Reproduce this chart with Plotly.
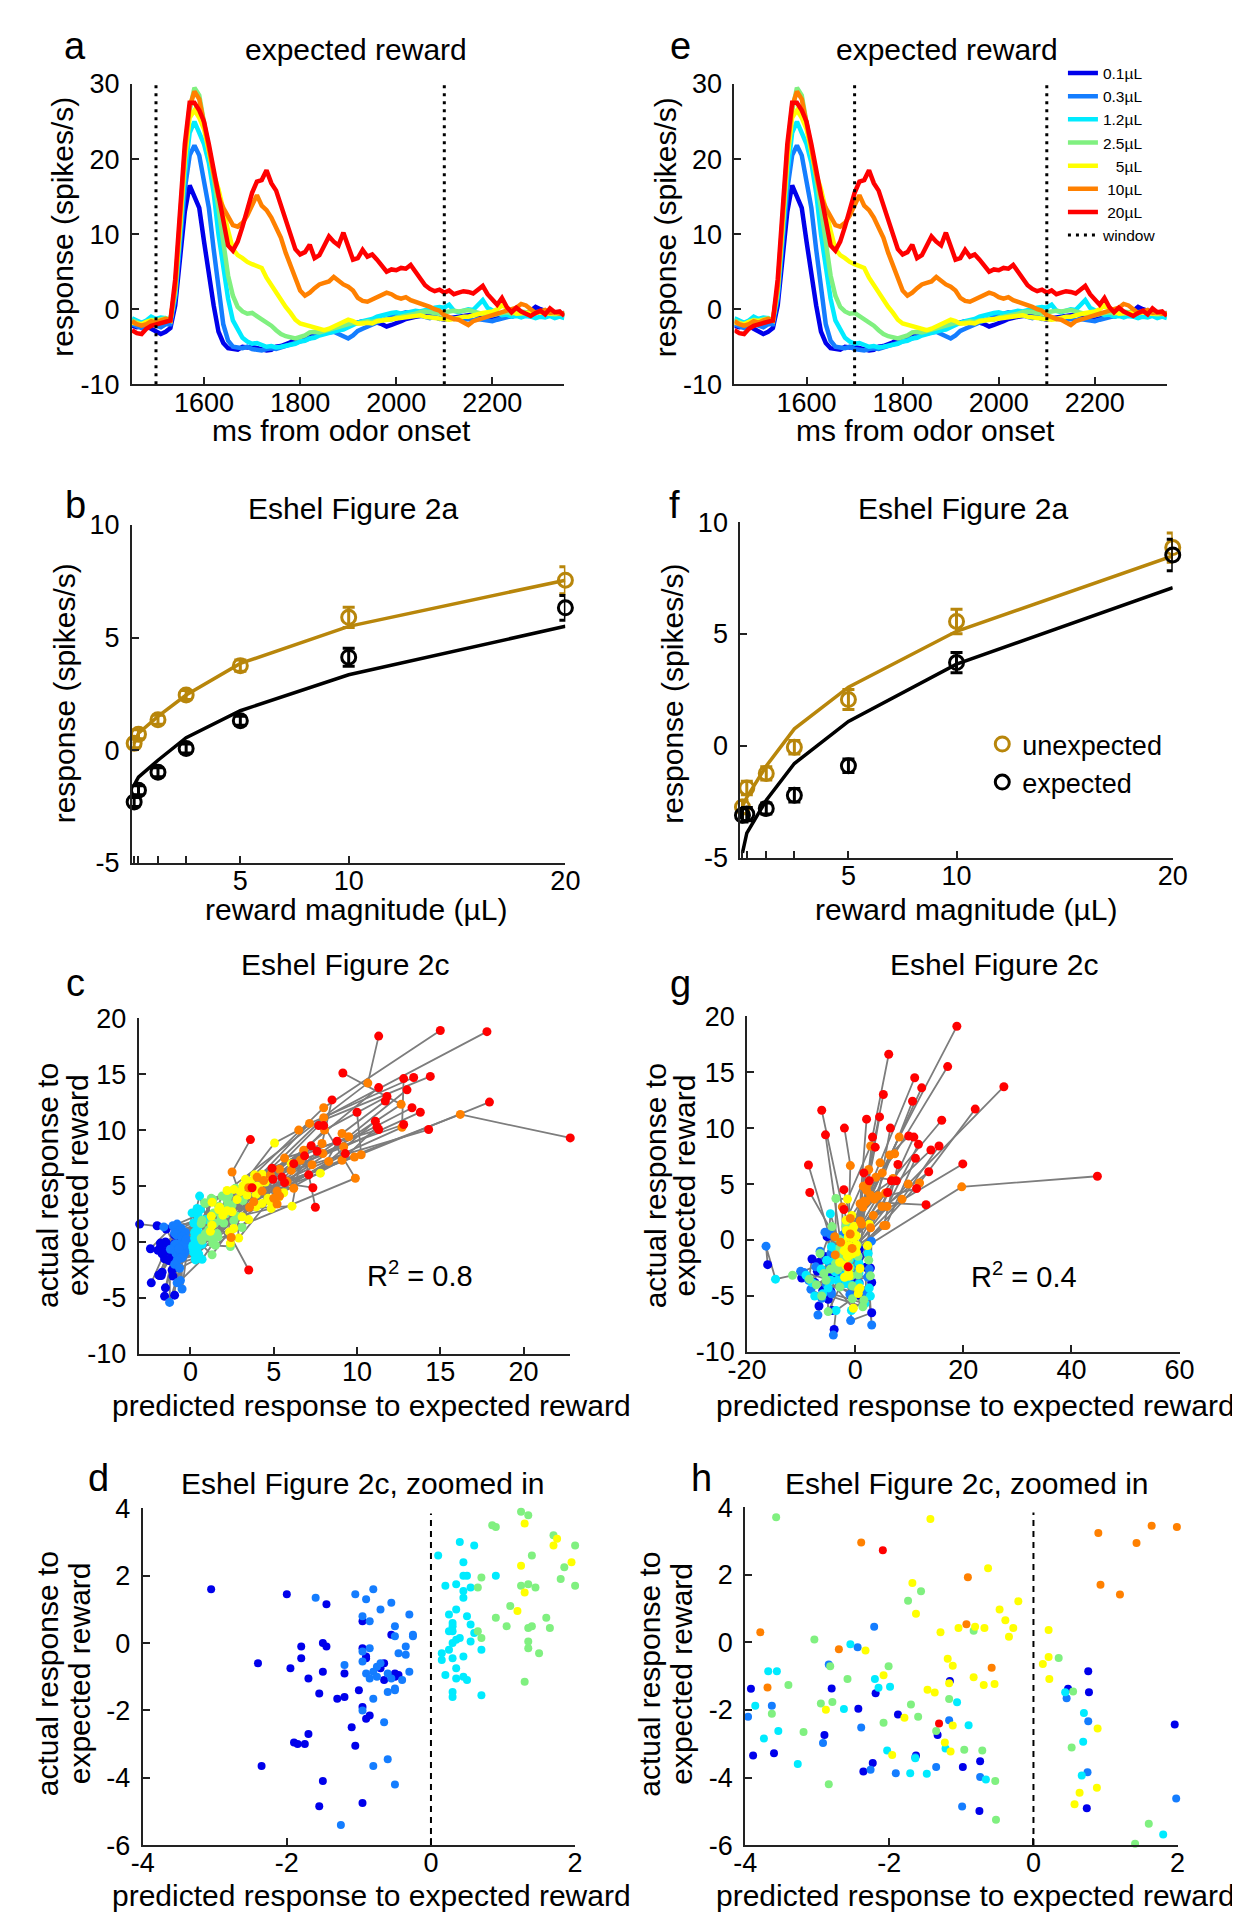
import plotly.graph_objects as go

# ====================== DATA ======================
# ---- panels a / e : PSTH (ms from odor onset) ----
t_ms = [1450,1460,1470,1480,1490,1500,1510,1520,1530,1540,1550,1560,1570,1580,1590,1600,1610,1620,1630,1640,
        1650,1660,1670,1680,1690,1700,1710,1720,1730,1740,1750,1760,1770,1780,1790,1800,1810,1820,1830,1840,
        1850,1860,1870,1880,1890,1900,1910,1920,1930,1940,1950,1960,1970,1980,1990,2000,2010,2020,2030,2040,
        2050,2060,2070,2080,2090,2100,2110,2120,2130,2140,2150,2160,2170,2180,2190,2200,2210,2220,2230,2240,
        2250,2260,2270,2280,2290,2300,2310,2320,2330,2340,2350]

resp_0p1 = [-2.2,-2.4,-2.3,-2.2,-2.6,-3.0,-3.3,-3.0,
            -2.5,0.5,7,13,16.5,15,13.5,9,4.5,0.5,-3,-4.5,-5.2,
            -5.3,-5.4,-5.0,-5.1,-5.0,-5.2,-5.3,-5.5,-5.4,-5.0,
            -4.9,-4.7,-4.4,-4.0,-3.8,-3.6,-3.5,-3.4,-3.2,-3.0,
            -2.7,-2.5,-2.4,-2.2,-2.1,-1.9,-1.8,-1.6,-1.7,-1.7,
            -1.8,-2.0,-2.3,-2.1,-1.9,-1.6,-1.3,-1.1,-1.0,-0.9,
            -0.8,-0.9,-1.1,-1.3,-1.4,-1.2,-1.1,-1.0,-0.9,-0.8,
            -0.7,-0.9,-1.0,-1.1,-1.0,-0.9,-0.8,-0.9,-1.0,-0.8,
            -0.7,-0.6,-0.2,0.3,0.0,-0.3,-0.5,-0.4,-0.6,-0.5]
resp_0p3 = [-2.0,-2.3,-2.5,-2.2,-2.0,-2.2,-2.4,-2.0,
            -2.0,1.5,9,16,20.5,21.8,20.5,17,13.5,8,3,-2,-4.2,
            -5.0,-5.1,-5.2,-5.0,-5.3,-5.4,-5.5,-5.3,-5.2,-5.3,
            -5.1,-4.9,-4.8,-4.6,-4.4,-4.2,-3.9,-3.6,-3.3,-3.2,
            -3.1,-3.0,-3.3,-3.6,-3.9,-3.5,-2.9,-2.6,-2.3,-2.0,
            -1.7,-1.5,-1.3,-1.0,-0.8,-0.6,-0.4,-0.5,-0.7,-0.9,
            -1.0,-1.2,-1.0,-1.3,-1.2,-1.1,-1.3,-1.2,-1.4,-1.3,
            -1.5,-1.3,-1.4,-1.5,-1.6,-1.4,-1.2,-1.0,-0.9,-0.8,
            -1.0,-0.6,-0.4,-0.6,-0.3,-0.5,-0.6,-0.8,-0.7,-0.9]
resp_1p2 = [-1.2,-1.5,-1.8,-1.5,-1.0,-1.3,-1.1,-1.2,
            -1.5,2,10,18,23.5,25,23.5,22,19.5,15.5,10,5.5,1.4,
            -1.5,-2.8,-3.8,-4.3,-4.6,-4.5,-4.8,-5.0,-4.9,-5.1,
            -5.0,-4.9,-4.7,-4.6,-4.3,-4.2,-3.9,-3.8,-3.5,-3.3,
            -3.1,-2.9,-2.8,-2.7,-2.4,-2.0,-1.8,-1.6,-1.5,-1.3,
            -1.0,-0.8,-0.6,-0.5,-0.4,-0.6,-0.5,-0.3,-0.2,-0.3,
            -0.1,0.0,0.2,0.3,0.2,0.6,-0.2,-0.4,-0.2,0.0,
            -0.1,0.6,1.2,0.2,-0.2,-0.5,-0.8,-0.7,-1.0,-0.9,
            -1.1,-0.9,-1.0,-1.2,-1.0,-1.1,-0.9,-1.2,-1.0,-1.2]
resp_2p5 = [-1.5,-1.8,-2.0,-1.7,-1.4,-1.5,-1.3,-1.2,
            -1.5,2.5,11,20,26.5,29.5,28.5,25,21.6,17.5,13.5,8.5,4.5,
            1.8,0.3,-0.3,-0.6,-0.5,-0.9,-1.3,-1.7,-2.2,-2.8,
            -3.3,-3.6,-3.8,-3.9,-3.7,-3.5,-3.1,-3.0,-3.1,-2.9,
            -2.8,-2.5,-2.3,-2.1,-2.0,-1.8,-1.9,-1.7,-1.6,-1.7,
            -1.5,-1.5,-1.3,-1.4,-1.1,-1.0,-0.9,-0.8,-0.6,-0.4,
            -0.3,-0.4,-0.5,-0.6,-0.4,-0.3,-0.2,-0.3,-0.2,-0.1,
            -0.3,-0.5,-0.7,-0.8,-0.8,-0.6,-0.5,-0.4,-0.6,-0.4,
            -0.3,-0.4,-0.5,-0.4,-0.3,-0.5,-0.6,-0.7,-0.6,-0.8]
resp_5 = [-1.8,-1.9,-2.0,-1.7,-1.5,-1.6,-1.4,-1.3,
          -1.5,3,11,20,25.5,26.5,25.5,24,21,18,16,13,10.5,
          8,7.2,6.8,6.3,6.0,5.8,5.5,4.2,3.2,2.2,
          1.1,0.3,-0.5,-1.4,-1.9,-2.1,-2.2,-2.4,-2.6,-2.8,
          -2.6,-2.3,-2.0,-1.7,-1.4,-1.6,-1.9,-1.9,-1.8,-1.9,
          -1.6,-1.5,-1.4,-1.3,-1.2,-1.2,-1.1,-0.9,-0.8,-0.8,
          -1.0,-1.1,-1.2,-1.2,-1.3,-1.4,-1.3,-1.1,-1.0,-1.0,
          -0.8,-0.6,-0.5,-0.4,-0.3,0.0,0.5,0.2,-0.3,-0.6,
          -0.6,-0.5,-0.4,-0.5,-0.4,-0.5,-0.6,-0.5,-0.6,-0.6]
resp_10 = [-1.6,-2.0,-2.2,-2.0,-1.6,-1.8,-1.5,-1.3,
           -1.5,3,12,21,27,29,28,25,21.5,18,15,13.5,12.4,
           11.2,11.0,11.5,12.5,14.0,15.2,13.8,13.2,12.2,11.0,
           9.5,7.5,5.8,4.0,2.5,1.8,2.2,2.8,3.3,3.5,
           3.7,4.3,3.8,3.3,3.0,2.5,1.5,1.1,1.0,1.3,
           1.6,1.8,2.2,2.0,1.6,1.4,1.6,1.2,1.0,0.8,
           0.5,0.3,0.0,-0.2,-0.8,-1.1,-1.3,-1.4,-1.8,-2.1,
           -1.6,-1.4,-1.2,-1.0,-0.9,-0.7,-0.5,-0.3,0.0,0.2,
           0.7,0.5,0.0,-0.5,-0.3,-0.1,-0.5,-0.4,-0.6,-0.6]
resp_20 = [-2.8,-3.2,-3.3,-2.6,-2.2,-2.0,-1.8,-1.6,
           -1.5,4,13,22,27.5,27.5,26.5,25,22,18.5,15.5,12,8.5,
           7.8,9.0,11.0,13.5,15.5,17.0,17.2,18.5,16.8,15.8,
           13.8,12.0,10.0,8.0,7.3,7.6,8.6,6.8,7.2,8.6,
           9.7,9.0,8.5,10.2,8.3,6.6,6.8,7.9,7.0,7.3,
           6.6,5.8,5.0,5.3,5.2,5.5,5.4,5.9,5.0,4.3,
           3.2,2.7,2.4,2.6,2.2,2.5,2.0,2.2,2.4,2.3,
           2.1,2.6,3.1,2.0,1.3,0.6,1.5,0.3,-0.4,0.2,
           -0.3,-0.6,-0.9,-0.5,-0.2,-0.7,0.1,-0.4,-0.3,-0.9]

reward_labels = ['0.1µL', '0.3µL', '1.2µL', '2.5µL', '\u00a0\u00a0\u00a05µL', '\u00a010µL', '\u00a020µL']
window_a = [1500, 2100]
window_e = [1700, 2100]
psth_xticks = [1600, 1800, 2000, 2200]
psth_xlabels = ['1600', '1800', '2000', '2200']
psth_yticks = [-10, 0, 10, 20, 30]
psth_ylabels = ['-10', '0', '10', '20', '30']

# ---- panels b / f : response vs reward magnitude ----
rewards = [0.1, 0.3, 1.2, 2.5, 5, 10, 20]
reward_ticktext = ['', '', '', '', '5', '10', '20']
mag_yticks = [-5, 0, 5, 10]
mag_ylabels = ['-5', '0', '5', '10']
b_unexp = [0.3, 0.7, 1.35, 2.45, 3.75, 5.9, 7.55]
b_unexp_err = [0.2, 0.2, 0.2, 0.2, 0.25, 0.45, 0.6]
b_exp = [-2.3, -1.78, -0.98, 0.07, 1.31, 4.13, 6.32]
b_exp_err = [0.2, 0.2, 0.2, 0.2, 0.2, 0.4, 0.55]
b_fit_unexp = [0.3, 0.75, 1.5, 2.45, 3.85, 5.5, 7.55]
b_fit_exp = [-1.55, -1.2, -0.45, 0.55, 1.75, 3.35, 5.5]

f_unexp = [-2.73, -1.88, -1.23, -0.06, 2.07, 5.56, 8.86]
f_unexp_err = [0.3, 0.3, 0.3, 0.3, 0.45, 0.55, 0.65]
f_exp = [-3.1, -3.05, -2.8, -2.21, -0.89, 3.72, 8.53]
f_exp_err = [0.3, 0.3, 0.25, 0.3, 0.3, 0.45, 0.7]
f_fit_unexp = [-2.7, -2.3, -0.9, 0.76, 2.62, 5.12, 8.49]
f_fit_exp = [-4.78, -3.9, -2.43, -0.79, 1.09, 3.65, 7.07]

# ---- panels c / d : predicted vs actual (40 neurons, one list per reward size) ----
c_pred_0p1 = [-3.05,-2.4,-2.35,-2.0,-1.95,-1.9,-1.85,-1.75,-1.7,-1.7,-1.8,-1.8,-1.55,-1.5,-1.5,-1.45,-1.45,-1.5,-1.55,-1.3,
              -1.2,-1.1,-1.05,-1.0,-0.95,-0.9,-0.85,-0.95,-0.95,-0.9,-0.95,-0.65,-0.65,-0.5,-0.5,-0.55,-1.2,-0.7,-0.45,-0.9]
c_act_0p1 = [1.6,-0.6,-3.65,1.45,-0.75,-2.95,-3.0,-3.0,-2.7,-1.05,-0.1,-0.45,-1.5,-0.85,0.0,-0.1,1.15,-4.1,-4.85,-1.65,
             -1.6,-2.5,-3.05,-1.4,-1.9,-2.25,-2.15,0.65,-0.15,-0.4,-4.75,-0.6,-1.1,-0.9,-1.0,0.25,-0.9,-0.75,-0.95,-0.45]
c_pred_0p3 = [-1.6,-1.05,-0.8,-0.9,-0.55,-0.7,-0.95,-0.85,-0.3,-0.5,-0.5,-0.25,-0.35,-0.35,-0.3,-0.4,-0.95,-0.95,-0.85,-0.75,
              -0.8,-0.9,-0.85,-0.75,-1.2,-0.6,-0.55,-0.5,-0.5,-0.6,-0.8,-0.95,-0.65,-0.6,-0.8,-0.5,-1.25,-0.45,-0.25,-0.7]
c_act_0p3 = [1.35,1.45,1.6,1.3,1.2,1.0,0.8,0.65,0.85,0.5,0.2,0.2,-0.1,-0.35,-0.85,-1.1,-0.25,-0.55,-0.15,-0.7,
             -0.85,-0.9,-1.05,-1.0,-0.65,-0.9,-1.05,-1.35,-1.4,-1.45,-1.65,-2.0,-2.35,-3.45,-3.65,-4.2,-5.4,-0.3,0.25,-0.6]
c_pred_1p2 = [0.2,0.35,0.45,0.45,0.5,0.55,0.45,0.45,0.9,0.25,0.3,0.3,0.5,0.55,0.25,0.3,0.35,0.3,0.4,0.55,
              0.6,0.15,0.15,0.3,0.45,0.7,0.2,0.35,0.35,0.45,0.5,0.3,0.3,0.7,0.55,0.1,0.4,0.25,0.6,0.35]
c_act_1p2 = [1.7,1.75,2.4,2.0,2.0,1.65,1.55,1.35,2.0,0.85,0.6,0.5,0.8,0.55,0.35,0.35,0.1,0.0,0.15,0.05,
             0.3,-0.3,-0.5,-0.45,-0.4,-0.2,-0.95,-0.75,-1.05,-1.0,-1.1,-1.45,-1.6,-1.55,4.1,2.6,3.0,-0.2,2.9,1.0]
c_pred_2p5 = [0.65,0.7,0.9,0.9,1.05,1.35,1.25,1.35,1.45,1.4,1.35,1.4,1.35,1.35,1.3,1.6,1.65,1.7,1.8,2.0,
              2.0,0.65,0.7,2.2,2.3,2.5,2.8,3.1,2.1,2.6,1.25,1.9,2.25,3.15,1.5,0.85,1.1,2.4,2.7,1.85]
c_act_2p5 = [1.65,1.95,3.45,0.75,0.5,3.8,1.7,1.75,1.65,2.6,0.45,0.5,0.05,-0.15,-1.15,0.75,0.45,3.2,1.9,2.9,
             1.7,0.35,0.15,3.8,4.2,3.3,2.3,1.3,2.5,1.9,3.9,4.1,3.4,3.7,-0.3,3.5,1.1,-0.4,4.8,2.25]
c_pred_5 = [1.3,1.25,1.3,1.2,1.75,1.7,1.95,5.05,6.05,7.8,3.85,4.3,4.5,3.15,3.95,3.4,4.65,4.3,4.85,6.1,
            3.95,3.1,2.6,2.6,2.35,4.8,2.9,2.2,3.6,2.2,4.1,5.3,3.0,2.8,3.5,2.4,5.6,3.3,2.5,4.0]
c_act_5 = [3.55,2.3,1.5,0.95,3.1,2.9,2.4,8.85,7.0,6.15,6.0,6.05,5.35,5.0,4.25,4.2,3.9,3.45,3.0,3.2,
           3.15,2.25,4.7,1.2,0.9,3.6,0.35,2.8,5.4,4.6,4.9,4.0,4.5,3.8,2.0,-0.1,4.4,5.6,2.7,5.0]
c_pred_10 = [10.65,8.0,8.0,12.65,16.2,12.7,7.15,6.5,8.05,9.1,9.5,7.9,7.95,9.2,9.85,10.25,8.3,9.1,5.65,6.6,
             6.05,5.35,4.8,9.9,3.5,4.3,5.2,5.0,5.2,3.55,5.35,5.8,4.4,6.8,2.5,2.45,4.0,7.3,3.8,6.2]
c_act_10 = [14.2,12.0,11.1,12.3,11.4,10.25,10.6,10.0,10.0,9.7,9.4,8.8,7.9,8.5,7.6,7.8,7.2,7.3,7.5,7.3,
            6.4,6.5,6.0,5.7,4.85,4.55,4.55,3.9,3.4,3.1,4.1,5.4,5.5,8.2,6.25,0.4,5.8,6.9,3.6,4.8]
c_pred_20 = [11.3,15.0,17.8,9.15,22.8,12.8,13.4,14.4,11.8,11.7,13.0,8.5,13.3,13.8,17.95,10.0,11.1,11.2,11.3,12.8,
             14.3,11.3,7.7,8.0,7.25,6.85,9.3,7.6,4.9,4.95,5.65,7.1,7.35,7.5,3.6,3.5,3.7,6.2,8.8,5.5]
c_act_20 = [18.4,18.9,18.8,15.1,9.3,14.6,14.7,14.8,13.0,12.6,13.6,12.7,12.0,11.6,12.5,11.6,10.8,10.3,10.05,10.5,
            10.05,13.8,10.4,10.4,8.6,7.7,7.9,8.1,6.6,5.6,5.3,6.0,4.85,3.1,9.15,-2.5,4.85,7.0,9.0,5.8]

# ---- panels g / h ----
g_pred_0p1 = [-2.19,-3.92,-2.8,0.48,-3.89,-3.6,-1.16,-2.43,0.76,-2.9,-1.63,-1.33,-2.23,-1.88,-0.98,0.77,1.96,-0.75,-0.74,-2.36,
              0.74,-6.8,-7.5,-4.3,-5.5,-3.9,3.05,-6.7,-16.2,-9.9,3.05,-5.0,2.5,2.8,-4.5,-6.0,-4.8,-7.0,-8.0,-5.2]
g_act_0p1 = [-1.5,-1.37,-1.36,-1.37,-3.35,-3.28,-1.14,-1.96,-0.85,-2.74,-3.35,-2.74,-3.57,-2.13,-3.69,-1.47,-2.43,-4.99,-3.52,-3.82,
             -4.91,-2.0,-3.8,-6.3,-1.5,-8.0,-6.5,-5.9,-2.2,-3.4,-3.8,-5.3,-5.0,-2.5,-4.6,-4.5,-2.8,-2.8,-1.7,0.3]
g_pred_0p3 = [-2.21,-2.44,-2.84,0.46,-3.63,-3.96,-1.17,-2.39,0.76,-2.92,-1.64,-1.35,-2.26,-1.91,-0.74,0.75,1.98,-0.99,-4.6,-5.6,
              -7.3,-5.8,-6.5,-4.4,-5.3,-4.05,-0.85,-6.9,-16.5,-10.1,2.6,-8.2,3.05,3.0,-9.5,-4.7,-6.2,2.3,-8.6,-4.5]
g_act_0p3 = [0.47,-0.14,-0.65,-1.65,-1.87,-2.2,-2.3,-2.52,-2.33,-2.98,-3.4,-3.69,-3.77,-3.87,-3.98,-3.84,-4.62,-4.86,0.5,0.7,
             -2.4,-3.0,-1.0,-4.8,-4.0,-8.5,-7.2,-6.7,-0.55,-2.8,-2.6,-4.4,-7.6,-0.1,-2.9,-2.1,-5.2,-3.3,-3.6,-1.2]
g_pred_1p2 = [-2.54,-3.68,-3.56,-2.2,0.44,-3.86,-2.15,-1.99,-2.63,-3.74,-1.06,0.7,-3.54,-2.03,-1.22,-0.9,-3.27,-1.64,-1.71,-1.48,
              -0.66,0.69,0.67,1.8,-4.6,-3.55,-0.7,-6.0,-14.75,-9.1,-5.3,-7.5,2.6,2.8,-4.5,-6.3,2.4,-5.0,-8.0,-4.4]
g_act_1p2 = [-0.05,-0.85,-0.85,-1.08,-1.47,-1.87,-1.34,-1.31,-1.97,-2.84,-1.77,-2.09,-2.62,-3.2,-3.14,-2.45,-3.6,-3.43,-3.87,-3.89,
             -4.06,-2.94,-3.94,-5.69,2.35,-6.3,-6.3,-4.8,-3.5,-3.15,-1.8,-5.0,-4.3,-5.0,-3.6,-2.6,-1.2,-4.3,-3.8,-0.6]
g_pred_2p5 = [-1.74,-3.57,-1.56,-0.83,0.35,-3.04,-2.01,-2.82,-2.58,-3.4,-1.17,0.55,-2.95,-2.79,-1.7,-1.6,-3.63,-2.08,-1.35,-3.19,
              -0.96,-0.71,0.53,-2.84,-0.53,-0.52,1.6,1.41,-11.6,-7.2,-5.0,-6.2,-5.4,2.5,2.8,-4.6,-6.5,-8.5,-4.3,-5.8]
g_act_2p5 = [1.24,3.71,1.52,0.35,-0.46,0.09,-0.7,-0.7,-1.08,-1.26,-1.67,-1.45,-1.81,-1.76,-1.84,-2.2,-2.11,-2.38,-2.62,-2.65,
             -3.18,-3.2,-3.11,-4.2,-4.1,-5.25,-5.37,-5.96,-3.15,-4.0,-6.4,-5.0,-3.6,-1.8,-3.2,-2.6,-1.2,-3.5,1.2,-3.0]
g_pred_5 = [-0.21,-1.43,-0.63,-1.68,-0.47,-0.39,-1.63,0.21,-2.33,-2.88,-1.29,-0.81,-0.68,-0.34,-0.28,-1.04,0.13,0.21,-1.19,0.22,
            -1.12,-2.08,-1.96,-1.47,-1.37,-0.83,-0.69,-0.54,-1.17,-1.79,-1.12,0.89,-1.23,2.6,2.3,-1.15,0.64,0.57,0.88,-0.35]
g_act_5 = [1.22,3.66,2.2,1.76,0.98,0.66,0.85,0.37,-0.24,-1.99,0.3,0.47,0.43,0.17,0.43,0.43,-0.64,-0.43,-0.48,-1.08,
           -0.69,-0.97,-3.33,-1.4,-1.48,-1.03,-1.26,-1.23,-1.21,-2.23,-2.46,-2.55,-2.96,1.4,-0.5,-3.23,-4.45,-4.79,-4.3,-6.1]
g_pred_10 = [8.15,2.85,7.3,2.5,4.6,5.0,3.55,9.8,-2.39,-2.7,-0.9,0.9,2.1,4.25,6.4,4.95,5.9,8.65,5.6,11.9,
             7.0,-3.69,-3.79,0.93,1.43,5.3,5.7,3.35,2.85,3.8,1.5,2.85,1.64,1.2,19.7,1.99,-0.91,-0.93,-0.58,2.3]
g_act_10 = [9.2,8.4,7.7,6.3,6.9,6.0,3.65,5.0,2.96,-0.2,6.65,3.24,4.45,3.95,7.6,3.0,3.0,3.65,4.2,5.1,
            5.5,-1.33,0.3,1.71,2.95,1.3,1.3,2.2,4.0,5.6,4.8,1.1,3.46,1.42,4.75,3.42,1.93,0.54,-0.75,5.0]
g_pred_20 = [18.8,6.2,17.1,5.2,11.0,12.3,10.6,27.5,-6.2,-5.5,-2.0,2.1,3.2,6.5,9.9,10.85,11.7,15.5,14.0,22.2,
             16.0,-8.65,-8.4,1.6,3.7,7.9,11.15,13.6,6.7,7.6,2.6,6.0,11.35,19.9,44.8,13.1,-2.1,-2.09,-1.31,4.5]
g_act_20 = [19.1,16.6,15.5,13.0,14.5,13.6,12.4,13.7,11.6,9.4,10.0,10.8,9.2,10.0,9.3,9.2,8.55,8.4,8.05,11.7,
            10.7,6.7,4.25,6.0,8.3,6.75,7.3,6.1,5.3,5.3,5.3,4.25,4.6,6.8,5.7,3.15,4.5,2.73,-2.4,11.0]

scatter_yticks = [-10, -5, 0, 5, 10, 15, 20]
scatter_ylabels = ['-10', '-5', '0', '5', '10', '15', '20']
c_xticks = [0, 5, 10, 15, 20]
c_xlabels = ['0', '5', '10', '15', '20']
g_xticks = [-20, 0, 20, 40, 60]
g_xlabels = ['-20', '0', '20', '40', '60']
zoom_xticks = [-4, -2, 0, 2]
zoom_xlabels = ['-4', '-2', '0', '2']
zoom_yticks = [-6, -4, -2, 0, 2, 4]
zoom_ylabels = ['-6', '-4', '-2', '0', '2', '4']

r2_c = 0.8
r2_g = 0.4

# ====================== STYLE ======================
FONT = "Liberation Sans, Arial, Helvetica, sans-serif"
W, H = 1240, 1920
JET = ['rgb(0,0,235)', 'rgb(20,125,255)', 'rgb(0,235,255)', 'rgb(128,240,128)',
       'rgb(255,255,0)', 'rgb(255,128,0)', 'rgb(255,0,0)']
GOLD = '#b8860b'
AXC = '#222222'


def fx(p):
    return p / W


def fy(p):
    return 1 - p / H


# subplot boxes in pixels: left, right, top, bottom
boxes = {
    1: (107, 552, 62, 367),     # a
    2: (727, 1172, 62, 367),    # e
    3: (107, 553, 510, 853),    # b
    4: (733, 1178, 507, 848),   # f
    5: (114, 558, 1011, 1352),  # c
    6: (740, 1185, 1009, 1350), # g
    7: (118, 563, 1509, 1851),  # d
    8: (738, 1183, 1508, 1851), # h
}

fig = go.Figure()


def xy(i):
    return ('x' if i == 1 else 'x%d' % i), ('y' if i == 1 else 'y%d' % i)


# ---------- panels a / e ----------
curves = [resp_0p1, resp_0p3, resp_1p2, resp_2p5, resp_5, resp_10, resp_20]
for idx, (win, show) in zip([1, 2], [(window_a, False), (window_e, True)]):
    xa, ya = xy(idx)
    for k, vals in enumerate(curves):
        fig.add_trace(go.Scatter(x=t_ms, y=vals, mode='lines', xaxis=xa, yaxis=ya,
                                 line=dict(color=JET[k], width=4.5),
                                 name=reward_labels[k], showlegend=show, legend='legend'))
    wx, wy = [], []
    for w in win:
        wx += [w, w, None]
        wy += [psth_yticks[0], psth_yticks[-1], None]
    fig.add_trace(go.Scatter(x=wx, y=wy, mode='lines', xaxis=xa, yaxis=ya,
                             line=dict(color='black', width=3, dash='3px,5px'),
                             name='window', showlegend=show, legend='legend'))

# ---------- panels b / f ----------
for idx, data in zip([3, 4], [(b_unexp, b_unexp_err, b_exp, b_exp_err, b_fit_unexp, b_fit_exp),
                              (f_unexp, f_unexp_err, f_exp, f_exp_err, f_fit_unexp, f_fit_exp)]):
    xa, ya = xy(idx)
    un, une, ex, exe, fun, fex = data
    show = (idx == 4)
    fig.add_trace(go.Scatter(x=rewards, y=fun, mode='lines', xaxis=xa, yaxis=ya,
                             line=dict(color=GOLD, width=3.5), showlegend=False))
    fig.add_trace(go.Scatter(x=rewards, y=fex, mode='lines', xaxis=xa, yaxis=ya,
                             line=dict(color='black', width=3.5), showlegend=False))
    fig.add_trace(go.Scatter(x=rewards, y=un, mode='markers', xaxis=xa, yaxis=ya,
                             marker=dict(symbol='circle-open', size=14, color=GOLD, line=dict(width=3, color=GOLD)),
                             error_y=dict(type='data', array=une, color=GOLD, thickness=3, width=6),
                             name='unexpected', showlegend=show, legend='legend2', cliponaxis=False))
    fig.add_trace(go.Scatter(x=rewards, y=ex, mode='markers', xaxis=xa, yaxis=ya,
                             marker=dict(symbol='circle-open', size=14, color='black', line=dict(width=3, color='black')),
                             error_y=dict(type='data', array=exe, color='black', thickness=3, width=6),
                             name='expected', showlegend=show, legend='legend2', cliponaxis=False))

# ---------- panels c / g (with connecting lines) and d / h (zoom) ----------
c_pred = [c_pred_0p1, c_pred_0p3, c_pred_1p2, c_pred_2p5, c_pred_5, c_pred_10, c_pred_20]
c_act = [c_act_0p1, c_act_0p3, c_act_1p2, c_act_2p5, c_act_5, c_act_10, c_act_20]
g_pred = [g_pred_0p1, g_pred_0p3, g_pred_1p2, g_pred_2p5, g_pred_5, g_pred_10, g_pred_20]
g_act = [g_act_0p1, g_act_0p3, g_act_1p2, g_act_2p5, g_act_5, g_act_10, g_act_20]

for (idx_full, idx_zoom), P, A in [((5, 7), c_pred, c_act), ((6, 8), g_pred, g_act)]:
    xa, ya = xy(idx_full)
    n = min(len(v) for v in P + A)
    px_, py_ = [], []
    for i in range(n):
        for lv in range(7):
            px_.append(P[lv][i])
            py_.append(A[lv][i])
        px_.append(None)
        py_.append(None)
    fig.add_trace(go.Scatter(x=px_, y=py_, mode='lines', xaxis=xa, yaxis=ya,
                             line=dict(color='rgb(125,125,125)', width=1.8), showlegend=False))
    for lv in range(7):
        fig.add_trace(go.Scatter(x=P[lv][:n], y=A[lv][:n], mode='markers', xaxis=xa, yaxis=ya,
                                 marker=dict(color=JET[lv], size=9), showlegend=False, cliponaxis=False))
    xz, yz = xy(idx_zoom)
    for lv in range(7):
        fig.add_trace(go.Scatter(x=P[lv][:n], y=A[lv][:n], mode='markers', xaxis=xz, yaxis=yz,
                                 marker=dict(color=JET[lv], size=8), showlegend=False, cliponaxis=False))
    fig.add_shape(type='line', xref=xz, yref=yz, x0=0, x1=0, y0=zoom_yticks[0], y1=3.85,
                  line=dict(color='black', width=2, dash='6px,5px'))

# ====================== AXES ======================
ranges = {
    1: dict(x=[1450, 2350], y=[-10, 30], xt=psth_xticks, xl=psth_xlabels, yt=psth_yticks, yl=psth_ylabels),
    2: dict(x=[1450, 2350], y=[-10, 30], xt=psth_xticks, xl=psth_xlabels, yt=psth_yticks, yl=psth_ylabels),
    3: dict(x=[0, 20], y=[-5, 10], xt=rewards, xl=reward_ticktext, yt=mag_yticks, yl=mag_ylabels),
    4: dict(x=[0, 20], y=[-5, 10], xt=rewards, xl=reward_ticktext, yt=mag_yticks, yl=mag_ylabels),
    5: dict(x=[-3.1, 22.8], y=[-10, 20], xt=c_xticks, xl=c_xlabels, yt=scatter_yticks, yl=scatter_ylabels),
    6: dict(x=[-20, 60], y=[-10, 20], xt=g_xticks, xl=g_xlabels, yt=scatter_yticks, yl=scatter_ylabels),
    7: dict(x=[-4, 2], y=[-6, 4], xt=zoom_xticks, xl=zoom_xlabels, yt=zoom_yticks, yl=zoom_ylabels),
    8: dict(x=[-4, 2], y=[-6, 4], xt=zoom_xticks, xl=zoom_xlabels, yt=zoom_yticks, yl=zoom_ylabels),
}

common = dict(showline=True, linecolor=AXC, linewidth=2, ticks='inside', ticklen=7, tickwidth=1.5,
              tickcolor=AXC, showgrid=False, zeroline=False,
              tickfont=dict(size=27, color='black', family=FONT))

layout_axes = {}
for i, (l, r, t, b) in boxes.items():
    xname = 'xaxis' if i == 1 else 'xaxis%d' % i
    yname = 'yaxis' if i == 1 else 'yaxis%d' % i
    xa, ya = xy(i)
    rg = ranges[i]
    layout_axes[xname] = dict(common, domain=[fx(l), fx(r)], anchor=ya, range=rg['x'],
                              tickvals=rg['xt'], ticktext=rg['xl'], ticklabelstandoff=-7)
    layout_axes[yname] = dict(common, domain=[fy(b), fy(t)], anchor=xa, range=rg['y'],
                              tickvals=rg['yt'], ticktext=rg['yl'], ticklabelstandoff=5)

fig.update_layout(**layout_axes)

fig.update_layout(
    width=W, height=H, margin=dict(l=0, r=0, t=0, b=0),
    paper_bgcolor='white', plot_bgcolor='white',
    font=dict(family=FONT, color='black'),
    legend=dict(x=fx(1065), y=fy(34), xanchor='left', yanchor='top', bgcolor='rgba(0,0,0,0)',
                font=dict(size=15.5, family=FONT, color='black'), itemwidth=30, tracegroupgap=0),
    legend2=dict(x=fx(982), y=fy(708), xanchor='left', yanchor='top', bgcolor='rgba(0,0,0,0)',
                 font=dict(size=27, family=FONT, color='black'), itemwidth=30),
)


# ====================== TEXT ======================
def note(text, x, y, size, angle=0):
    fig.add_annotation(text=text, x=fx(x), y=fy(y), xref='paper', yref='paper', showarrow=False,
                       font=dict(size=size, family=FONT, color='black'), textangle=angle,
                       xanchor='center', yanchor='middle')


for letter, x, y in [('a', 48, 23), ('e', 671, 23), ('b', 49, 490), ('f', 665, 490),
                     ('c', 49, 975), ('g', 671, 976), ('d', 73, 1478), ('h', 693, 1478)]:
    note(letter, x, y, 38)

for text, x, y in [('expected reward', 338, 27), ('expected reward', 946, 27),
                   ('Eshel Figure 2a', 334, 493), ('Eshel Figure 2a', 962, 493),
                   ('Eshel Figure 2c', 326, 956), ('Eshel Figure 2c', 994, 956),
                   ('Eshel Figure 2c, zoomed in', 345, 1484), ('Eshel Figure 2c, zoomed in', 966, 1484)]:
    note(text, x, y, 30)

for text, x, y in [('ms from odor onset', 323, 414), ('ms from odor onset', 924, 414),
                   ('reward magnitude (µL)', 338, 901), ('reward magnitude (µL)', 965, 901),
                   ('predicted response to expected reward', 353, 1404),
                   ('predicted response to expected reward', 975, 1404),
                   ('predicted response to expected reward', 353, 1902),
                   ('predicted response to expected reward', 975, 1902)]:
    note(text, x, y, 30)

for text, x, y in [('response (spikes/s)', 36, 207), ('response (spikes/s)', 656, 207),
                   ('response (spikes/s)', 37, 681), ('response (spikes/s)', 663, 681)]:
    note(text, x, y, 30, angle=-90)

for x1, x2, y in [(20, 51, 1181), (646, 676, 1181), (20, 53, 1677), (640, 673, 1677)]:
    note('actual response to', x1, y, 30, angle=-90)
    note('expected reward', x2, y, 30, angle=-90)

note('R<sup>2</sup> = %.1f' % r2_c, 403, 1271, 29)
note('R<sup>2</sup> = %.1f' % r2_g, 1025, 1272, 29)

fig.write_html("out.html")
